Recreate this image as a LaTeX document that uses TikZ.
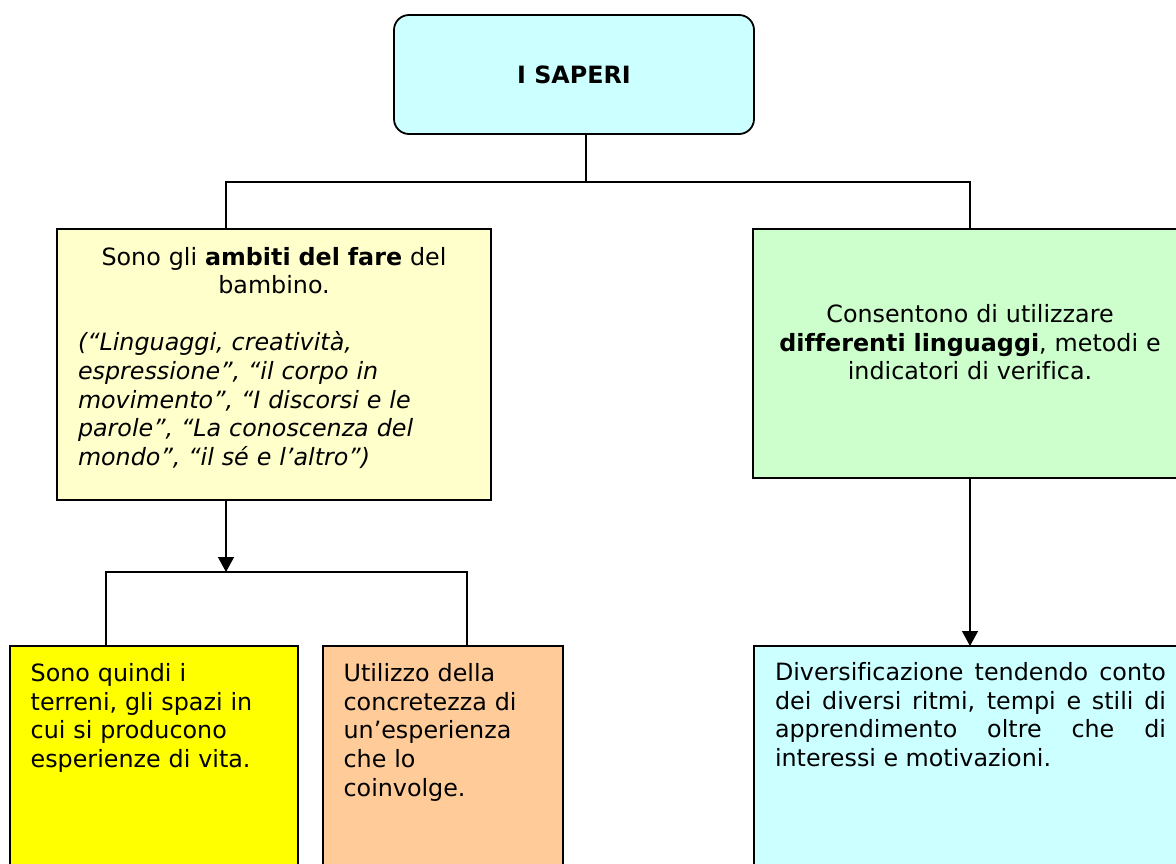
\documentclass[tikz,border=0pt]{standalone}
\usepackage{fontspec}
\setmainfont{DejaVu Sans}[Ligatures=NoCommon, ItalicFont={DejaVu Sans Oblique}, BoldFont={DejaVu Sans Bold}, BoldItalicFont={DejaVu Sans Bold Oblique}]
\usepackage{xcolor}
\usetikzlibrary{arrows.meta}

\definecolor{skyfill}{HTML}{CCFFFF}
\definecolor{creamfill}{HTML}{FFFFCC}
\definecolor{mintfill}{HTML}{CCFFCC}
\definecolor{lemonfill}{HTML}{FFFF00}
\definecolor{peachfill}{HTML}{FFCC99}

\begin{document}
\begin{tikzpicture}[x=0.5pt, y=-0.5pt, font=\fontsize{11.9pt}{14.3pt}\selectfont]
\tikzstyle{process} = [rectangle, draw=black, line width=0.9 pt, anchor=north west, inner ysep=0 pt, outer sep=0 pt]
\tikzstyle{link} = [line width=0.65 pt]
\tikzstyle{arrow} = [link, -{Triangle[length=7.5pt, width=8pt]}]

\useasboundingbox (0,0) rectangle (1176,863);
\clip (0,0) rectangle (1176,863);

\node (S) [process, anchor=center, rounded corners=7.5 pt, minimum width=180 pt, minimum height=59.5 pt, inner sep=0 pt, fill=skyfill] at (574,74.5) {\textbf{I SAPERI}};
\node (A) [process, fill=creamfill, text width=196 pt, inner xsep=10.5 pt, text height=18 pt, text depth=117.5 pt, align=left] at (57,229) {{\centering Sono gli \textbf{ambiti del fare} del\\ bambino.\par}\vspace{14.3pt}\itshape (“Linguaggi, creatività,\\ espressione”, “il corpo in\\ movimento”, “I discorsi e le\\ parole”, “La conoscenza del\\ mondo”, “il sé e l’altro”)};
\node (L) [process, fill=mintfill, text width=213 pt, inner xsep=2 pt, text height=46.85 pt, text depth=77.65 pt, align=center] at (753,229) {Consentono di utilizzare\\ \textbf{differenti linguaggi}, metodi e\\ indicatori di verifica.};
\node (T) [process, fill=lemonfill, text width=123.3 pt, inner xsep=10.35 pt, text height=17.85 pt, text depth=99.15 pt, align=left] at (10,646) {Sono quindi i\\ terreni, gli spazi in\\ cui si producono\\ esperienze di vita.};
\node (U) [process, fill=peachfill, text width=99.2 pt, inner xsep=10.5 pt, text height=17.85 pt, text depth=99.15 pt, align=left] at (322.6,646) {Utilizzo della\\ concretezza di\\ un’esperienza\\ che lo\\ coinvolge.};
\node (D) [process, fill=skyfill, text width=195.5 pt, inner xsep=10.5 pt, text height=17.35 pt, text depth=99.65 pt, align=justify] at (754,646) {Diversificazione tendendo conto\linebreak dei diversi ritmi, tempi e stili di\linebreak apprendimento oltre che di\linebreak interessi e motivazioni.};

\coordinate (hub) at (586,182);
\coordinate (hubA) at (226,182);
\coordinate (hubL) at (970,182);
\coordinate (fork) at (226,572);
\coordinate (forkT) at (106,572);
\coordinate (forkU) at (467,572);

\draw [link] (S.south -| hub) -- (hub);
\draw [link] (hubA |- A.north) -- (hubA) -- (hubL) -- (hubL |- L.north);
\draw [arrow] (A.south -| fork) -- (fork);
\draw [link] (forkT |- T.north) -- (forkT) -- (forkU) -- (forkU |- U.north);
\draw [arrow] (L.south) -- (L.south |- D.north);

\end{tikzpicture}
\end{document}
